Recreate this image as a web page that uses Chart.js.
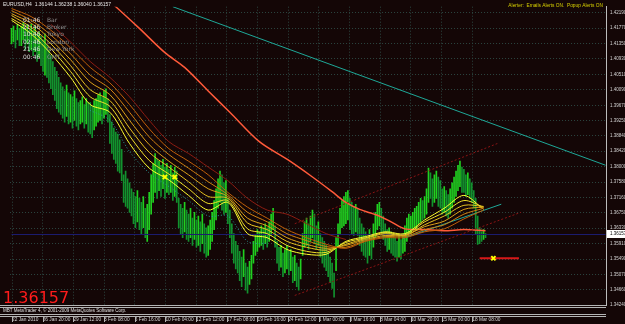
<!DOCTYPE html>
<html>
<head>
<meta charset="utf-8">
<script src="https://cdn.jsdelivr.net/npm/chart.js@4/dist/chart.umd.min.js"></script>
<style>
  html, body { margin: 0; padding: 0; background: #140606; }
  #wrap { width: 625px; height: 324px; }
</style>
</head>
<body>
<div id="wrap"><canvas id="chart" width="625" height="324"></canvas></div>
<script>
// EURUSD H4 bars, 22 Jan - 19 Mar 2010 (high / low per bar)
const barHighs = [
    1.4176,1.4182,1.4171,1.4187,1.4176, 1.4182,1.4192,1.4176,1.4187,1.4171,
    1.4187,1.4171,1.4182,1.4161,1.4166, 1.4155,1.4145,1.4161,1.4129,1.4118,
    1.4102,1.4086,1.4070,1.4059,1.4043, 1.4028,1.4017,1.4006,1.4022,1.4001,
    1.3996,1.3990,1.4006,1.3985,1.3974, 1.3980,1.3990,1.3969,1.3985,1.3974,
    1.3974,1.3964,1.3980,1.3985,1.3996, 1.4001,1.3990,1.4006,1.4012,1.3985,
    1.3942,1.3921,1.3905,1.3894,1.3889, 1.3873,1.3847,1.3778,1.3788,1.3767,
    1.3756,1.3740,1.3730,1.3719,1.3735, 1.3714,1.3703,1.3719,1.3687,1.3698,
    1.3730,1.3778,1.3809,1.3836,1.3820, 1.3815,1.3804,1.3820,1.3799,1.3809,
    1.3793,1.3804,1.3783,1.3799,1.3788, 1.3714,1.3698,1.3687,1.3703,1.3682,
    1.3671,1.3687,1.3660,1.3676,1.3655, 1.3666,1.3650,1.3671,1.3645,1.3634,
    1.3639,1.3655,1.3676,1.3708,1.3740, 1.3767,1.3788,1.3778,1.3756,1.3762,
    1.3714,1.3682,1.3645,1.3618,1.3597, 1.3586,1.3570,1.3554,1.3575,1.3538,
    1.3527,1.3543,1.3559,1.3597,1.3613, 1.3629,1.3623,1.3639,1.3634,1.3645,
    1.3634,1.3650,1.3671,1.3687,1.3639, 1.3597,1.3581,1.3586,1.3565,1.3575,
    1.3586,1.3570,1.3575,1.3554,1.3559, 1.3538,1.3527,1.3549,1.3618,1.3650,
    1.3660,1.3645,1.3666,1.3682,1.3671, 1.3639,1.3650,1.3618,1.3607,1.3597,
    1.3586,1.3570,1.3554,1.3538,1.3511, 1.3607,1.3645,1.3687,1.3708,1.3719,
    1.3730,1.3735,1.3714,1.3703,1.3692, 1.3698,1.3687,1.3660,1.3645,1.3634,
    1.3623,1.3607,1.3629,1.3613,1.3645, 1.3676,1.3698,1.3703,1.3687,1.3666,
    1.3645,1.3629,1.3634,1.3623,1.3618, 1.3607,1.3597,1.3613,1.3602,1.3618,
    1.3639,1.3660,1.3671,1.3666,1.3676, 1.3687,1.3692,1.3703,1.3714,1.3708,
    1.3719,1.3740,1.3796,1.3783,1.3767, 1.3778,1.3788,1.3772,1.3762,1.3740,
    1.3746,1.3735,1.3724,1.3740,1.3756, 1.3772,1.3788,1.3804,1.3815,1.3799,
    1.3793,1.3778,1.3783,1.3767,1.3756, 1.3735,1.3714,1.3666,1.3634,1.3623,
    1.3629,1.3618
];
const barLows = [
    1.4134,1.4139,1.4123,1.4145,1.4129, 1.4129,1.4145,1.4118,1.4134,1.4113,
    1.4118,1.4102,1.4113,1.4086,1.4097, 1.4075,1.4059,1.4049,1.4043,1.4028,
    1.4012,1.3996,1.3980,1.3958,1.3948, 1.3942,1.3932,1.3921,1.3937,1.3916,
    1.3921,1.3905,1.3926,1.3910,1.3900, 1.3916,1.3921,1.3905,1.3916,1.3894,
    1.3889,1.3879,1.3900,1.3910,1.3921, 1.3926,1.3916,1.3932,1.3942,1.3921,
    1.3863,1.3836,1.3820,1.3809,1.3788, 1.3783,1.3762,1.3703,1.3692,1.3687,
    1.3676,1.3666,1.3645,1.3634,1.3650, 1.3629,1.3618,1.3634,1.3607,1.3597,
    1.3629,1.3671,1.3703,1.3730,1.3714, 1.3735,1.3719,1.3740,1.3714,1.3730,
    1.3724,1.3730,1.3708,1.3719,1.3703, 1.3634,1.3618,1.3607,1.3623,1.3602,
    1.3597,1.3607,1.3586,1.3602,1.3581, 1.3586,1.3570,1.3591,1.3565,1.3554,
    1.3559,1.3575,1.3597,1.3629,1.3655, 1.3687,1.3703,1.3682,1.3671,1.3676,
    1.3645,1.3607,1.3565,1.3538,1.3522, 1.3511,1.3490,1.3474,1.3501,1.3464,
    1.3456,1.3480,1.3495,1.3538,1.3559, 1.3570,1.3581,1.3586,1.3575,1.3591,
    1.3581,1.3597,1.3613,1.3629,1.3581, 1.3538,1.3517,1.3527,1.3501,1.3511,
    1.3522,1.3506,1.3517,1.3485,1.3490, 1.3474,1.3464,1.3495,1.3559,1.3581,
    1.3586,1.3575,1.3597,1.3607,1.3591, 1.3575,1.3586,1.3554,1.3538,1.3527,
    1.3517,1.3501,1.3485,1.3469,1.3445, 1.3517,1.3581,1.3618,1.3634,1.3639,
    1.3645,1.3655,1.3629,1.3618,1.3613, 1.3623,1.3613,1.3586,1.3570,1.3559,
    1.3554,1.3538,1.3559,1.3549,1.3581, 1.3607,1.3629,1.3639,1.3623,1.3602,
    1.3586,1.3570,1.3575,1.3565,1.3559, 1.3554,1.3543,1.3554,1.3549,1.3565,
    1.3570,1.3597,1.3613,1.3618,1.3629, 1.3634,1.3629,1.3645,1.3650,1.3655,
    1.3660,1.3671,1.3703,1.3714,1.3692, 1.3703,1.3714,1.3692,1.3687,1.3671,
    1.3676,1.3666,1.3660,1.3671,1.3687, 1.3703,1.3719,1.3735,1.3746,1.3730,
    1.3730,1.3719,1.3724,1.3714,1.3703, 1.3687,1.3618,1.3589,1.3591,1.3597,
    1.3602,1.3607
];

// moving average ribbon, sampled every 10 bars (fast -> slow)
const ribbonBars = [0,10,20,30,40,50,60,70,80,90,100,110,120,130,140,150,160,170,180,190,200,210,220,230,240];
const ribbon1 = [1.4198,1.4161,1.4107,1.4043,1.3969,1.3948,1.3863,1.3796,1.3764,1.3722,1.3682,1.3703,1.3618,1.3607,1.3575,1.3562,1.3562,1.3597,1.3610,1.3623,1.3618,1.3655,1.3687,1.3722,1.3684];
const ribbon2 = [1.4203,1.4171,1.4121,1.4059,1.3990,1.3964,1.3884,1.3817,1.3780,1.3740,1.3700,1.3708,1.3631,1.3618,1.3586,1.3570,1.3567,1.3594,1.3607,1.3621,1.3615,1.3650,1.3676,1.3708,1.3690];
const ribbon3 = [1.4211,1.4179,1.4134,1.4075,1.4009,1.3980,1.3905,1.3839,1.3799,1.3759,1.3719,1.3714,1.3647,1.3629,1.3597,1.3581,1.3573,1.3589,1.3605,1.3618,1.3613,1.3642,1.3666,1.3695,1.3692];
const ribbon4 = [1.4216,1.4190,1.4145,1.4091,1.4030,1.3996,1.3926,1.3860,1.3815,1.3778,1.3740,1.3719,1.3660,1.3639,1.3607,1.3589,1.3578,1.3586,1.3602,1.3613,1.3613,1.3637,1.3652,1.3684,1.3690];
const ribbon5 = [1.4224,1.4198,1.4158,1.4107,1.4049,1.4012,1.3948,1.3881,1.3833,1.3796,1.3759,1.3724,1.3676,1.3650,1.3618,1.3599,1.3583,1.3581,1.3599,1.3610,1.3610,1.3629,1.3642,1.3671,1.3687];
const ribbon6 = [1.4230,1.4208,1.4171,1.4123,1.4070,1.4028,1.3969,1.3903,1.3849,1.3815,1.3778,1.3730,1.3690,1.3660,1.3629,1.3607,1.3589,1.3578,1.3597,1.3607,1.3607,1.3623,1.3631,1.3658,1.3682];

// slow dark red average above the ribbon
const slowBars = [20,30,40,50,60,70,80,90,100,110,120,130,140,150,160,170];
const slowValues = [1.4187,1.4139,1.4086,1.4043,1.3990,1.3926,1.3868,1.3836,1.3799,1.3762,1.3714,1.3682,1.3671,1.3645,1.3618,1.3602];

// dotted teal line under the ribbon
const dotBars = [40,50,60,70,80,90,100,110,120,130];
const dotValues = [1.3953,1.3926,1.3841,1.3783,1.3746,1.3708,1.3666,1.3666,1.3597,1.3591];

// long red average
const maBars = [48,53,65,78,88,100,111,126,141,153,163,170,177,186,193,200,210,220,230,241];
const maValues = [1.4256,1.4235,1.4176,1.4110,1.4070,1.4006,1.3948,1.3868,1.3817,1.3772,1.3732,1.3703,1.3684,1.3668,1.3650,1.3631,1.3629,1.3626,1.3629,1.3626];

// drawn objects: trend lines and channel (bar, price pairs)
const trendDownBars = [82, 302];
const trendDownValues = [1.4235, 1.3804];
const trendUpBars = [199, 249];
const trendUpValues = [1.3605, 1.3698];
const channelTopBars = [144, 247];
const channelTopValues = [1.3645, 1.3863];
const channelLowBars = [144, 259];
const channelLowValues = [1.3450, 1.3676];
const targetBars = [238, 258];
const targetValue = 1.3551;
const crossBars = [78, 83, 245];
const crossValues = [1.3772, 1.3772, 1.3551];

const closePrice = 1.36157;
const headerText = "EURUSD,H4  1.36144 1.36238 1.36040 1.36157";
const clockTimes = ["01:46", "21:46", "10:46", "02:46", "21:46", "00:46"];
const clockNames = ["Bar", "Broker", "Tokyo", "London", "New York", "GMT"];

const priceTicks = [1.4219,1.4177,1.4135,1.4093,1.4051,1.4009,1.3967,1.3925,1.3884,1.3842,
                    1.3800,1.3758,1.3716,1.3675,1.3633,1.3591,1.3549,1.3507,1.3466,1.3424];
const dateLabels = ["22 Jan 2010","26 Jan 20:00","29 Jan 12:00","3 Feb 08:00","5 Feb 16:00",
                    "10 Feb 04:00","12 Feb 12:00","17 Feb 08:00","19 Feb 16:00","24 Feb 12:00",
                    "1 Mar 00:00","3 Mar 16:00","8 Mar 04:00","10 Mar 20:00","15 Mar 00:00","18 Mar 08:00"];
const barsPerDateTick = 15.6;

const gridColor = "#2c4640";
const ribbonColors = ["#ffff30", "#f0e02a", "#e6c222", "#dca21a", "#d08012", "#c0600a"];
const smallFont = "'Liberation Sans'";

function pairs(xs, ys) {
    return xs.map(function (x, i) { return {x: x, y: ys[i]}; });
}

function lineSet(data, color, width, extra) {
    return Object.assign({
        type: "line",
        data: data,
        borderColor: color,
        borderWidth: width,
        pointRadius: 0,
        fill: false,
        tension: 0.3,
        order: 1
    }, extra || {});
}

let barData = barHighs.map(function (h, i) { return {x: i, y: [barLows[i], h]}; });
let barColors = barHighs.map(function (h, i) {
    if (i === 0) return "#1ccc1c";
    return (h + barLows[i]) >= (barHighs[i - 1] + barLows[i - 1]) ? "#20d020" : "#12922e";
});

let ribbonSets = [ribbon6, ribbon5, ribbon4, ribbon3, ribbon2, ribbon1].map(function (vals, k) {
    return lineSet(pairs(ribbonBars, vals), ribbonColors[5 - k], 1);
});

// background + overlay texts that MT4 paints on the chart
const mtPlugin = {
    id: "mt4",
    beforeDraw: function (chart) {
        const ctx = chart.ctx;
        ctx.save();
        ctx.fillStyle = "#140606";
        ctx.fillRect(0, 0, chart.width, chart.height);
        ctx.restore();
    },
    afterDraw: function (chart) {
        const ctx = chart.ctx;
        const area = chart.chartArea;
        const yScale = chart.scales.y;
        const xScale = chart.scales.x;
        ctx.save();

        // header
        ctx.font = "5px " + smallFont;
        ctx.fillStyle = "#e6e6e6";
        ctx.textBaseline = "middle";
        ctx.textAlign = "left";
        ctx.fillText(headerText, 3, 5);

        // clock block
        ctx.font = "6px 'DejaVu Sans'";
        clockTimes.forEach(function (t, k) {
            let y = 20 + k * 7.4;
            ctx.fillStyle = "#d6d6d6";
            ctx.fillText(t, 23, y);
            ctx.fillStyle = "#8c8c8c";
            ctx.fillText(clockNames[k], 47, y);
        });

        // alerter status
        ctx.font = "4.8px " + smallFont;
        ctx.fillStyle = "#d8d000";
        ctx.textAlign = "right";
        ctx.fillText("Alerter:  Emails Alerts ON.  Popup Alerts ON", 603, 6);

        // big last price
        ctx.textAlign = "left";
        ctx.textBaseline = "alphabetic";
        ctx.font = "16px 'DejaVu Sans'";
        ctx.fillStyle = "#ff1c1c";
        ctx.fillText(closePrice.toFixed(5), 3, 303);

        // bottom info strip
        ctx.fillStyle = "#140606";
        ctx.fillRect(0, area.bottom, area.right, 11);
        ctx.strokeStyle = "#b4b4b4";
        ctx.lineWidth = 1;
        [area.bottom + 0.5, area.bottom + 2.5, area.bottom + 9.5, area.bottom + 11.5].forEach(function (y) {
            ctx.beginPath();
            ctx.moveTo(0, y);
            ctx.lineTo(area.right, y);
            ctx.stroke();
        });
        ctx.font = "4.5px " + smallFont;
        ctx.fillStyle = "#e0e0e0";
        ctx.textBaseline = "middle";
        ctx.fillText("MBT MetaTrader 4, \u00a9 2001-2009 MetaQuotes Software Corp.", 3, area.bottom + 6);

        // small date tick marks
        ctx.strokeStyle = "#b4b4b4";
        xScale.ticks.forEach(function (t) {
            let px = Math.round(xScale.getPixelForValue(t.value)) + 0.5;
            ctx.beginPath();
            ctx.moveTo(px, area.bottom + 12);
            ctx.lineTo(px, area.bottom + 17);
            ctx.stroke();
        });

        // current price box on the axis
        let py = Math.round(yScale.getPixelForValue(closePrice));
        ctx.fillStyle = "#ffffff";
        ctx.fillRect(area.right + 1, py - 4, chart.width - area.right - 1, 8);
        ctx.fillStyle = "#000000";
        ctx.font = "4.5px " + smallFont;
        ctx.fillText(closePrice.toFixed(5), area.right + 4, py);
        ctx.restore();
    }
};

new Chart(document.getElementById("chart"), {
    type: "bar",
    data: {
        datasets: [
            {
                type: "bar",
                data: barData,
                backgroundColor: barColors,
                borderWidth: 0,
                barThickness: 1,
                grouped: false,
                order: 10
            },
            lineSet(pairs([0, 302], [closePrice, closePrice]), "#1c1c70", 1, {tension: 0, order: 9}),
            lineSet(pairs(channelTopBars, channelTopValues), "#8a1414", 1, {tension: 0, borderDash: [2, 2]}),
            lineSet(pairs(channelLowBars, channelLowValues), "#8a1414", 1, {tension: 0, borderDash: [2, 2]}),
            lineSet(pairs(slowBars, slowValues), "#8c1c12", 1),
            lineSet(pairs(dotBars, dotValues), "#2a9c9c", 1, {borderDash: [1, 2]})
        ].concat(ribbonSets).concat([
            lineSet(pairs(maBars, maValues), "#ff5a3a", 1.5),
            lineSet(pairs(trendDownBars, trendDownValues), "#1ea898", 1, {tension: 0}),
            lineSet(pairs(trendUpBars, trendUpValues), "#1ea898", 1, {tension: 0}),
            lineSet(pairs(targetBars, [targetValue, targetValue]), "#d81818", 2, {tension: 0}),
            {
                type: "line",
                data: pairs(crossBars, crossValues),
                showLine: false,
                pointStyle: "crossRot",
                pointRadius: 3,
                pointBorderWidth: 2,
                pointBorderColor: "#ffff00",
                pointBackgroundColor: "#ffff00",
                order: 0
            }
        ])
    },
    options: {
        responsive: false,
        animation: false,
        devicePixelRatio: 1,
        events: [],
        layout: {padding: 0},
        plugins: {legend: {display: false}, tooltip: {enabled: false}},
        scales: {
            x: {
                type: "linear",
                min: -0.75,
                max: 302.25,
                offset: false,
                grid: {color: gridColor, drawTicks: false, offset: false},
                border: {display: false, dash: [1, 2]},
                ticks: {
                    autoSkip: false,
                    maxRotation: 0,
                    align: "start",
                    padding: 12,
                    color: "#d4d4d4",
                    font: {size: 4.8, family: smallFont},
                    callback: function (v, i) { return dateLabels[i]; }
                },
                afterBuildTicks: function (scale) {
                    scale.ticks = dateLabels.map(function (_, k) { return {value: 0.25 + k * barsPerDateTick}; });
                },
                afterFit: function (scale) { scale.height = 19; }
            },
            y: {
                position: "right",
                min: 1.3424,
                max: 1.4235,
                grid: {color: gridColor, drawTicks: false},
                border: {display: true, color: "#bcbcbc", dash: [1, 2]},
                ticks: {
                    padding: 4,
                    color: "#d4d4d4",
                    font: {size: 4.5, family: smallFont},
                    callback: function (v) { return v.toFixed(5); }
                },
                afterBuildTicks: function (scale) {
                    scale.ticks = priceTicks.map(function (v) { return {value: v}; });
                },
                afterFit: function (scale) { scale.width = 19; }
            }
        }
    },
    plugins: [mtPlugin]
});
</script>
</body>
</html>
